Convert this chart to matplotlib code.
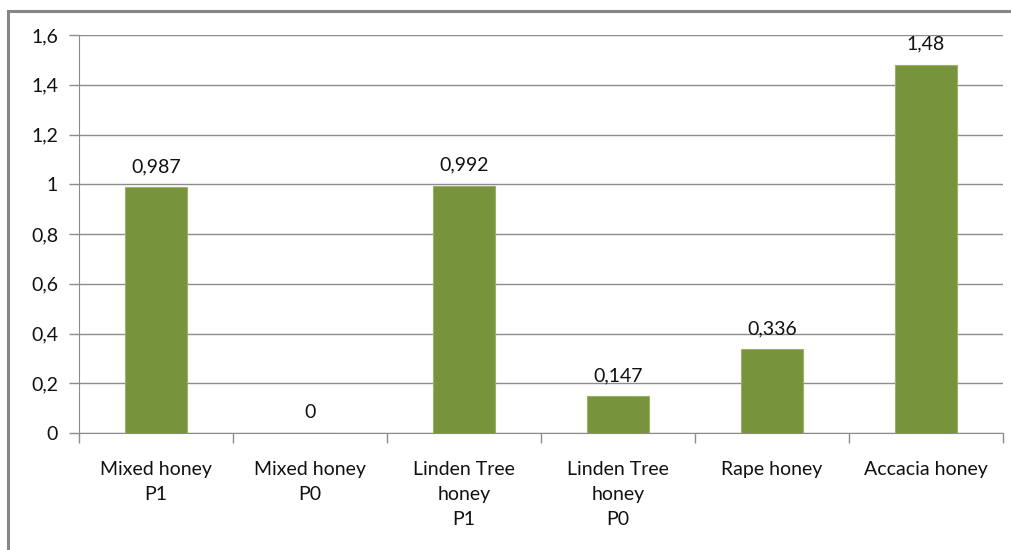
import matplotlib.pyplot as plt
from matplotlib.patches import Rectangle

categories = ["Mixed honey\nP1", "Mixed honey\nP0", "Linden Tree\nhoney\nP1",
              "Linden Tree\nhoney\nP0", "Rape honey", "Accacia honey"]
values = [0.987, 0, 0.992, 0.147, 0.336, 1.48]
yticks = [0, 0.2, 0.4, 0.6, 0.8, 1.0, 1.2, 1.4, 1.6]

plt.rcParams['font.family'] = ['Lato', 'DejaVu Sans']

fig = plt.figure(figsize=(10.11, 5.5), dpi=100)
W, H = 1011, 550
ax = fig.add_axes([79 / W, 1 - 433 / H, (1003 - 79) / W, (433 - 35) / H])

grey = "#8c8c8c"

# outer chart frame (cut off at right and bottom)
fig.patches.append(Rectangle((8 / W, -0.1), 1.1, 1 - 11 / H + 0.1,
                             transform=fig.transFigure, fill=False,
                             edgecolor="#868686", linewidth=2.2))

x = range(len(categories))
bars = ax.bar(x, values, width=0.4, color="#77933C", edgecolor="#9bb069",
              linewidth=0.8, zorder=3)

for xi, v in zip(x, values):
    ax.annotate(f"{v:g}".replace(".", ","), (xi, v), xytext=(0, 9),
                textcoords="offset points", ha="center", va="bottom",
                fontsize=14, color="#111111")

ax.set_xlim(-0.5, len(categories) - 0.5)
ax.set_ylim(0, 1.6)
ax.set_yticks(yticks)
ax.set_yticklabels([f"{t:g}".replace(".", ",") for t in yticks])
ax.yaxis.grid(True, color=grey, linewidth=1)
ax.set_axisbelow(True)

ax.set_xticks([i + 0.5 for i in range(-1, len(categories))], minor=False)
ax.set_xticklabels([])
ax.set_xticks(list(x), minor=True)
ax.set_xticklabels(categories, minor=True, fontsize=14, linespacing=1.58,
                   va="top", color="#111111")
ax.tick_params(axis="x", which="major", length=7, color=grey, width=1)
ax.tick_params(axis="x", which="minor", length=0, pad=20)
ax.tick_params(axis="y", length=7, color=grey, width=1, labelsize=14, pad=8,
               labelcolor="#111111")

for side in ["top", "right"]:
    ax.spines[side].set_visible(False)
ax.spines["left"].set_color(grey)
ax.spines["bottom"].set_color(grey)

fig.savefig("out.png", dpi=100)
